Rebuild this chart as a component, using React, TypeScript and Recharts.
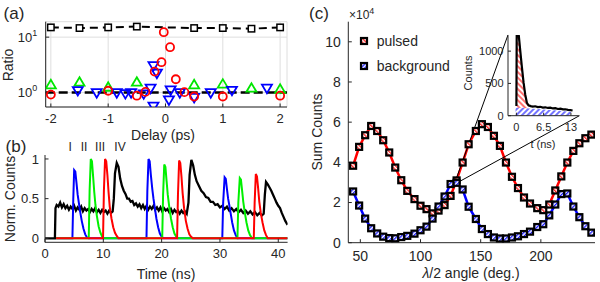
import React from 'react';
import {
  ComposedChart,
  LineChart,
  Line,
  Scatter,
  Area,
  XAxis,
  YAxis,
  CartesianGrid,
  ReferenceLine,
} from 'recharts';

const FONT = '"Liberation Sans", Arial, Helvetica, sans-serif';
const INK = '#262626';

// (a) ratio vs delay
const delayTicks = [-2, -1, 0, 1, 2];
const ratioTicks = [1, 10];
const refDelay = [-2, -1.5, -1, -0.5, 0.5, 1, 1.5, 2];
const refRatio = [15, 14.6, 15, 15.5, 14.6, 14.6, 14.2, 15];
const greenDelay = [-2, -1.5, -1, -0.5, 0.5, 1, 1.5, 2];
const greenRatio = [1.38, 1.54, 1.25, 1.54, 1.38, 1.42, 1.2, 1.15];
const blueDelay = [-1.53, -1.2, -0.85, -0.7, -0.6, -0.38, -0.26, -0.21, -0.15, -0.21, 0.09, 0.06, 0.25, 0.5, 0.79, 1.16, 1.77];
const blueRatio = [1.09, 1.0, 1.0, 0.96, 1.0, 0.95, 1.2, 0.57, 2.24, 3.07, 1.12, 0.74, 1.0, 0.82, 1.0, 1.1, 1.2];
const redDelay = [-2, -1, -0.5, -0.35, -0.19, -0.07, -0.03, 0.08, 0.18, 0.33, 0.5, 1, 2];
const redRatio = [0.92, 1.08, 0.88, 1.03, 2.39, 3.54, 12.3, 6.6, 1.74, 1.02, 0.85, 0.85, 0.88];

// (b) normalised time traces [time ns, counts]
const timeTicks = [0, 10, 20, 30, 40];
const normTicks = [0, 0.5, 1];
const blackTrace: [number, number][] = [
  [0, 0], [1.7, 0], [1.8, 0.38], [2.0, 0.42], [2.3, 0.4], [2.6, 0.45], [2.9, 0.39], [3.2, 0.43],
  [3.5, 0.38], [3.8, 0.41], [4.1, 0.36], [4.4, 0.4], [4.7, 0.37], [5.0, 0.41], [5.3, 0.35], [5.6, 0.39],
  [5.9, 0.36], [6.2, 0.4], [6.5, 0.34], [6.8, 0.38], [7.1, 0.35], [7.4, 0.37], [7.7, 0.33], [8.0, 0.37],
  [8.3, 0.34], [8.6, 0.38], [8.9, 0.33], [9.2, 0.36], [9.5, 0.32], [9.8, 0.36], [10.1, 0.33], [10.4, 0.35],
  [10.7, 0.31], [11.0, 0.35], [11.3, 0.32], [11.6, 0.34], [11.8, 0.5], [12.0, 0.82], [12.3, 0.95], [12.6, 0.9],
  [12.9, 0.75], [13.2, 0.66], [13.5, 0.6], [13.8, 0.56], [14.1, 0.5], [14.4, 0.5], [14.7, 0.46], [15.0, 0.47],
  [15.3, 0.42], [15.6, 0.44], [15.9, 0.4], [16.2, 0.43], [16.5, 0.38], [16.8, 0.42], [17.1, 0.37], [17.4, 0.41],
  [17.7, 0.36], [18.0, 0.4], [18.3, 0.37], [18.6, 0.41], [18.9, 0.36], [19.2, 0.39], [19.5, 0.35], [19.8, 0.39],
  [20.1, 0.34], [20.4, 0.38], [20.7, 0.35], [21.0, 0.37], [21.3, 0.33], [21.6, 0.37], [21.9, 0.32], [22.2, 0.36],
  [22.5, 0.33], [22.8, 0.35], [23.1, 0.31], [23.4, 0.35], [23.7, 0.32], [24.0, 0.34], [24.3, 0.31], [24.6, 0.45],
  [24.8, 0.8], [25.1, 0.99], [25.4, 0.92], [25.7, 0.8], [26.0, 0.72], [26.4, 0.66], [26.8, 0.6], [27.2, 0.57],
  [27.6, 0.52], [28.0, 0.51], [28.4, 0.46], [28.8, 0.46], [29.2, 0.42], [29.6, 0.43], [30.0, 0.39], [30.4, 0.41],
  [30.8, 0.37], [31.2, 0.4], [31.6, 0.35], [32.0, 0.38], [32.4, 0.34], [32.8, 0.37], [33.2, 0.33], [33.6, 0.36],
  [34.0, 0.32], [34.4, 0.35], [34.8, 0.31], [35.2, 0.34], [35.6, 0.3], [36.0, 0.33], [36.4, 0.29], [36.8, 0.32],
  [37.2, 0.29], [37.5, 0.31], [37.7, 0.55], [37.9, 0.71], [38.2, 0.68], [38.5, 0.64], [38.8, 0.6], [39.1, 0.55],
  [39.4, 0.5], [39.7, 0.45], [40.0, 0.41], [40.3, 0.38], [40.6, 0.32], [40.9, 0.27], [41.2, 0.22], [41.6, 0.17],
];
const blueTrace: [number, number][] = [
  [1.9, 0], [4.7, 0], [4.85, 0.5], [5.0, 0.86], [5.2, 0.84], [5.4, 0.7], [5.6, 0.55], [5.8, 0.45], [6.0, 0.35],
  [6.3, 0.22], [6.6, 0.12], [6.9, 0.05], [7.2, 0.01], [7.5, 0],
  [17.4, 0], [17.55, 0.6], [17.75, 1.0], [17.95, 0.97], [18.15, 0.8], [18.4, 0.62], [18.6, 0.5], [18.8, 0.4],
  [19.1, 0.25], [19.4, 0.14], [19.7, 0.06], [20.0, 0.02], [20.3, 0],
  [30.4, 0], [30.55, 0.45], [30.8, 0.77], [31.0, 0.75], [31.2, 0.62], [31.4, 0.5], [31.6, 0.42], [31.8, 0.33],
  [32.1, 0.2], [32.4, 0.1], [32.7, 0.04], [33.0, 0], [41.6, 0],
];
const greenTrace: [number, number][] = [
  [1.9, 0], [7.5, 0], [7.65, 0.6], [7.85, 1.0], [8.05, 0.97], [8.25, 0.78], [8.45, 0.58], [8.65, 0.42],
  [8.9, 0.28], [9.2, 0.15], [9.5, 0.07], [9.8, 0.02], [10.1, 0],
  [20.1, 0], [20.25, 0.55], [20.45, 0.93], [20.65, 0.9], [20.85, 0.72], [21.05, 0.55], [21.3, 0.4],
  [21.6, 0.25], [21.9, 0.14], [22.2, 0.06], [22.5, 0.02], [22.8, 0],
  [33.0, 0], [33.15, 0.45], [33.4, 0.76], [33.6, 0.74], [33.8, 0.6], [34.0, 0.46], [34.25, 0.33],
  [34.55, 0.2], [34.85, 0.1], [35.15, 0.04], [35.5, 0], [41.6, 0],
];
const redTrace: [number, number][] = [
  [1.9, 0], [9.95, 0], [10.1, 0.6], [10.3, 1.0], [10.5, 0.97], [10.7, 0.8], [10.9, 0.58], [11.1, 0.4],
  [11.4, 0.25], [11.7, 0.14], [12.0, 0.07], [12.3, 0.03], [12.6, 0],
  [22.65, 0], [22.8, 0.55], [23.0, 0.98], [23.2, 0.95], [23.4, 0.78], [23.6, 0.57], [23.85, 0.38],
  [24.15, 0.22], [24.45, 0.12], [24.75, 0.05], [25.05, 0.02], [25.35, 0],
  [35.8, 0], [35.95, 0.45], [36.15, 0.81], [36.35, 0.78], [36.55, 0.63], [36.75, 0.46], [37.0, 0.32],
  [37.3, 0.2], [37.6, 0.1], [37.9, 0.04], [38.2, 0], [41.6, 0],
];
const pulseNames = ['I', 'II', 'III', 'IV'];

// (c) summed counts vs half-wave plate angle
const angleTicks = [50, 100, 150, 200];
const sumTicks = [0, 2, 4, 6, 8, 10];
const angles = [44, 49, 54, 59, 64, 69, 74, 79, 84, 89, 95, 100, 105, 110, 115, 120, 125, 130, 135, 140,
  146, 151, 156, 161, 166, 171, 176, 181, 186, 191, 197, 202, 207, 212, 217, 222, 227, 232, 237, 242];
const pulsed = [3.83, 4.77, 5.35, 5.81, 5.56, 5.1, 4.49, 3.74, 3.11, 2.58, 2.17, 1.84, 1.67, 1.46, 1.6, 1.87,
  2.33, 3.1, 3.99, 4.9, 5.56, 5.9, 5.76, 5.32, 4.82, 3.99, 3.28, 2.72, 2.25, 1.95, 1.72, 1.62, 1.9, 2.6,
  3.3, 3.99, 4.57, 4.95, 5.2, 5.38];
const background = [2.55, 1.85, 1.2, 0.72, 0.46, 0.3, 0.23, 0.22, 0.28, 0.34, 0.45, 0.62, 0.8, 1.2, 1.8,
  2.3, 2.92, 2.98, 2.65, 1.79, 1.18, 0.68, 0.43, 0.26, 0.21, 0.21, 0.26, 0.32, 0.43, 0.55, 0.78, 0.92,
  1.36, 1.9, 2.42, 2.45, 1.8, 1.27, 0.82, 0.5];
// zoom connector: picked angle and inset corners, in main-axis units
const zoomPoint = { x: 128, y: 2.9 };
const insetTopLeft = { x: 172.7, y: 10.34 };
const insetBottomRight = { x: 232, y: 6.32 };

// (c) inset histogram
const histTicks = [0, 6.5, 13];
const countTicks = [0, 500, 1000];
const histTime = [0, 0.08, 0.5, 0.9, 1.3, 1.7, 2.1, 2.5, 2.9, 3.4, 3.9, 4.5, 5.1, 5.7, 6.3, 6.9, 7.5, 8.1,
  8.7, 9.3, 9.9, 10.5, 11.1, 11.7, 12.3, 12.9, 13.4];
const histPulsed = [150, 1300, 1290, 1020, 760, 520, 330, 200, 160, 148, 140, 146, 134, 138, 126, 130, 120,
  124, 112, 116, 104, 108, 98, 100, 90, 86, 80];
const histBgTime = [-0.2, 1.0, 2.0, 3.0, 4.0, 5.0, 6.0, 7.0, 8.0, 9.0, 10.0, 11.0, 12.0, 13.0];
const histBg = [125, 122, 118, 113, 108, 104, 99, 94, 89, 83, 77, 71, 65, 58];

const xy = (xs: number[], ys: number[]) => xs.map((x, i) => ({ x, y: ys[i] }));
const tv = (pts: [number, number][]) => pts.map(([t, v]) => ({ t, v }));

const tickFont = (size: number) => ({ fontSize: size, fill: INK, fontFamily: FONT });
const axisStroke = { stroke: INK, strokeWidth: 1 };

function PowerTick(props: any) {
  const { x, y, payload } = props;
  return (
    <text x={x} y={y} dy={4.5} textAnchor="end" fill={INK} fontSize={13} fontFamily={FONT}>
      10
      <tspan dy={-6} fontSize={9}>
        {Math.round(Math.log10(payload.value))}
      </tspan>
    </text>
  );
}

const openSquare = (p: any) => (
  <rect x={p.cx - 3.2} y={p.cy - 3.2} width={6.4} height={6.4} fill="#fff" stroke="#000" strokeWidth={1.5} />
);
const openCircle = (p: any) => <circle cx={p.cx} cy={p.cy} r={4} fill="none" stroke="#ff0000" strokeWidth={1.8} />;
const triangle = (color: string, up: boolean) => (p: any) => {
  const { cx, cy } = p;
  const d = up
    ? `M${cx - 5},${cy + 3.5}L${cx + 5},${cy + 3.5}L${cx},${cy - 5}Z`
    : `M${cx - 5},${cy - 3.5}L${cx + 5},${cy - 3.5}L${cx},${cy + 5}Z`;
  return <path d={d} fill="none" stroke={color} strokeWidth={1.8} />;
};
const hatchedSquare = (fill: string) => (p: any) => (
  <rect x={p.cx - 3} y={p.cy - 3} width={6} height={6} fill={fill} stroke="#000" strokeWidth={2.2} />
);

function HatchDefs() {
  return (
    <svg width={0} height={0} style={{ position: 'absolute' }}>
      <defs>
        <pattern id="pulsedHatch" patternUnits="userSpaceOnUse" width={2.8} height={2.8} patternTransform="rotate(-45)">
          <rect width={2.8} height={2.8} fill="#fff" />
          <line x1={0.7} y1={0} x2={0.7} y2={2.8} stroke="#ff0000" strokeWidth={1.2} />
        </pattern>
        <pattern id="bgHatch" patternUnits="userSpaceOnUse" width={2.8} height={2.8} patternTransform="rotate(45)">
          <rect width={2.8} height={2.8} fill="#fff" />
          <line x1={0.7} y1={0} x2={0.7} y2={2.8} stroke="#0000ff" strokeWidth={1.2} />
        </pattern>
        <pattern id="insetRed" patternUnits="userSpaceOnUse" width={4} height={4} patternTransform="rotate(-45)">
          <rect width={4} height={4} fill="#fff" />
          <line x1={1} y1={0} x2={1} y2={4} stroke="#ff0000" strokeWidth={1.1} />
        </pattern>
        <pattern id="insetBlue" patternUnits="userSpaceOnUse" width={4} height={4} patternTransform="rotate(45)">
          <rect width={4} height={4} fill="#fff" />
          <line x1={1} y1={0} x2={1} y2={4} stroke="#0000ff" strokeWidth={1.1} />
        </pattern>
      </defs>
    </svg>
  );
}

function RatioPanel() {
  const xDomain = [-2.09, 2.12];
  const yDomain = [0.55, 19];
  return (
    <ComposedChart width={300} height={145} margin={{ top: 21.7, right: 13, bottom: 0, left: 0 }}>
      <CartesianGrid stroke="#dedede" />
      <XAxis dataKey="x" type="number" domain={xDomain} ticks={delayTicks} allowDataOverflow height={38}
        tickSize={-3.5} tickMargin={10} tick={tickFont(13)} axisLine={axisStroke} tickLine={axisStroke} />
      <XAxis xAxisId="top" orientation="top" type="number" domain={xDomain} ticks={delayTicks} allowDataOverflow
        height={0} tick={false} tickSize={-3.5} axisLine={axisStroke} tickLine={axisStroke} />
      <YAxis dataKey="y" type="number" scale="log" domain={yDomain} ticks={ratioTicks} allowDataOverflow width={45.7}
        tickSize={-3.5} tickMargin={12} tick={(p: any) => <PowerTick {...p} />} axisLine={axisStroke} tickLine={axisStroke} />
      <YAxis yAxisId="right" orientation="right" type="number" scale="log" domain={yDomain} ticks={ratioTicks}
        allowDataOverflow width={0} tick={false} tickSize={-3.5} axisLine={axisStroke} tickLine={axisStroke} />
      <ReferenceLine y={1} stroke="#000" strokeWidth={2.5} strokeDasharray="9 4" />
      <Line data={xy(refDelay, refRatio)} dataKey="y" stroke="#000" strokeWidth={2} strokeDasharray="8 5"
        dot={false} isAnimationActive={false} />
      <Scatter data={xy(refDelay, refRatio)} shape={openSquare} isAnimationActive={false} />
      <Scatter data={xy(greenDelay, greenRatio)} shape={triangle('#00e600', true)} isAnimationActive={false} />
      <Scatter data={xy(blueDelay, blueRatio)} shape={triangle('#0000ff', false)} isAnimationActive={false} />
      <Scatter data={xy(redDelay, redRatio)} shape={openCircle} isAnimationActive={false} />
    </ComposedChart>
  );
}

function TracePanel() {
  const xDomain = [0, 41.6];
  const yDomain = [-0.05, 1.05];
  return (
    <LineChart width={300} height={142} margin={{ top: 15, right: 12.4, bottom: 0, left: 0 }}>
      <XAxis dataKey="t" type="number" domain={xDomain} ticks={timeTicks} allowDataOverflow height={39.7}
        tickSize={-3.5} tickMargin={10} tick={tickFont(13)} axisLine={axisStroke} tickLine={axisStroke} />
      <XAxis xAxisId="top" orientation="top" type="number" domain={xDomain} ticks={timeTicks} allowDataOverflow
        height={0} tick={false} tickSize={-3.5} axisLine={axisStroke} tickLine={axisStroke} />
      <YAxis type="number" domain={yDomain} ticks={normTicks} allowDataOverflow width={45}
        tickSize={-3.5} tickMargin={9.5} tick={tickFont(13)} axisLine={axisStroke} tickLine={axisStroke} />
      <YAxis yAxisId="right" orientation="right" type="number" domain={yDomain} ticks={normTicks} allowDataOverflow
        width={0} tick={false} tickSize={-3.5} axisLine={axisStroke} tickLine={axisStroke} />
      <Line data={tv(blackTrace)} dataKey="v" stroke="#000" strokeWidth={2.3} dot={false} isAnimationActive={false} />
      <Line data={tv(blueTrace)} dataKey="v" stroke="#0000ff" strokeWidth={2} dot={false} isAnimationActive={false} />
      <Line data={tv(greenTrace)} dataKey="v" stroke="#00f000" strokeWidth={2} dot={false} isAnimationActive={false} />
      <Line data={tv(redTrace)} dataKey="v" stroke="#ff0000" strokeWidth={2} dot={false} isAnimationActive={false} />
    </LineChart>
  );
}

function SumPanel() {
  const xDomain = [40, 245];
  const yDomain = [0, 11];
  const pulsedRows = xy(angles, pulsed);
  const bgRows = xy(angles, background);
  return (
    <ComposedChart width={300} height={282} margin={{ top: 21.7, right: 5, bottom: 0, left: 0 }}>
      <XAxis dataKey="x" type="number" domain={xDomain} ticks={angleTicks} allowDataOverflow height={39.3}
        tickSize={-3.5} tickMargin={11.5} tick={tickFont(14)} axisLine={axisStroke} tickLine={axisStroke} />
      <XAxis xAxisId="top" orientation="top" type="number" domain={xDomain} ticks={angleTicks} allowDataOverflow
        height={0} tick={false} tickSize={-3.5} axisLine={axisStroke} tickLine={axisStroke} />
      <YAxis dataKey="y" type="number" domain={yDomain} ticks={sumTicks} allowDataOverflow width={48.3}
        tickSize={-3.5} tickMargin={11} tick={tickFont(14)} axisLine={axisStroke} tickLine={axisStroke} />
      <YAxis yAxisId="right" orientation="right" type="number" domain={yDomain} ticks={sumTicks} allowDataOverflow
        width={0} tick={false} tickSize={-3.5} axisLine={axisStroke} tickLine={axisStroke} />
      <Line data={pulsedRows} dataKey="y" stroke="#ff0000" strokeWidth={2.5} dot={false} isAnimationActive={false} />
      <Line data={bgRows} dataKey="y" stroke="#0000ff" strokeWidth={2.5} dot={false} isAnimationActive={false} />
      <Scatter data={pulsedRows} shape={hatchedSquare('url(#pulsedHatch)')} isAnimationActive={false} />
      <Scatter data={bgRows} shape={hatchedSquare('url(#bgHatch)')} isAnimationActive={false} />
      <ReferenceLine segment={[zoomPoint, insetTopLeft]} stroke="#000" strokeWidth={1} ifOverflow="visible" />
      <ReferenceLine segment={[zoomPoint, insetBottomRight]} stroke="#000" strokeWidth={1} ifOverflow="visible" />
    </ComposedChart>
  );
}

function InsetPanel() {
  const xDomain = [-2, 15];
  const yDomain = [0, 1250];
  const spike = histTime.slice(0, 9).map((t, i) => ({ t, v: histPulsed[i] }));
  const bg = histBgTime.map((t, i) => ({ t, v: histBg[i] }));
  const hist = histTime.map((t, i) => ({ t, v: histPulsed[i] }));
  return (
    <ComposedChart width={127} height={127} margin={{ top: 10, right: 5.7, bottom: 0, left: 0 }}>
      <CartesianGrid fill="#fff" stroke="none" />
      <XAxis dataKey="t" type="number" domain={xDomain} ticks={histTicks} allowDataOverflow height={36.3}
        tickSize={-3} tickMargin={10.5} tick={tickFont(11)} axisLine={axisStroke} tickLine={axisStroke} />
      <XAxis xAxisId="top" orientation="top" type="number" domain={xDomain} ticks={histTicks} allowDataOverflow
        height={0} tick={false} tickSize={-3} axisLine={axisStroke} tickLine={axisStroke} />
      <YAxis type="number" domain={yDomain} ticks={countTicks} allowDataOverflow width={50}
        tickSize={-3} tickMargin={7.5} tick={tickFont(11)} axisLine={axisStroke} tickLine={axisStroke} />
      <YAxis yAxisId="right" orientation="right" type="number" domain={yDomain} ticks={countTicks} allowDataOverflow
        width={0} tick={false} tickSize={-3} axisLine={axisStroke} tickLine={axisStroke} />
      <Area data={spike} dataKey="v" stroke="none" fill="url(#insetRed)" fillOpacity={1} isAnimationActive={false} />
      <Area data={bg} dataKey="v" stroke="none" fill="url(#insetBlue)" fillOpacity={1} isAnimationActive={false} />
      <Line data={hist} dataKey="v" stroke="#000" strokeWidth={2.2} dot={false} isAnimationActive={false} />
    </ComposedChart>
  );
}

function Text({ x, y, size = 14, rotate = false, left = false, children }: any) {
  return (
    <div
      style={{
        position: 'absolute',
        left: x,
        top: y,
        transform: `${left ? 'translate(0,-50%)' : 'translate(-50%,-50%)'}${rotate ? ' rotate(-90deg)' : ''}`,
        fontSize: size,
        fontFamily: FONT,
        color: INK,
        lineHeight: 1,
        whiteSpace: 'nowrap',
      }}
    >
      {children}
    </div>
  );
}

function LegendMark({ fill }: { fill: string }) {
  return (
    <svg width={10} height={10} style={{ display: 'block' }}>
      <rect x={2} y={2} width={6} height={6} fill={fill} stroke="#000" strokeWidth={2.2} />
    </svg>
  );
}

const pulseLabelX = [70.2, 84.1, 100.1, 120];

export default function App() {
  return (
    <div style={{ position: 'absolute', left: 0, top: 0, width: 600, height: 282, background: '#fff' }}>
      <HatchDefs />
      <div style={{ position: 'absolute', left: 0, top: 0 }}>
        <RatioPanel />
      </div>
      <div style={{ position: 'absolute', left: 0, top: 140 }}>
        <TracePanel />
      </div>
      <div style={{ position: 'absolute', left: 300, top: 0 }}>
        <SumPanel />
      </div>
      <div style={{ position: 'absolute', left: 458, top: 25 }}>
        <InsetPanel />
      </div>

      <Text x={14} y={12.5} size={17}>(a)</Text>
      <Text x={16} y={146} size={17}>(b)</Text>
      <Text x={319} y={13} size={17}>(c)</Text>

      <Text x={7.5} y={64.5} rotate>Ratio</Text>
      <Text x={163} y={135}>Delay (ps)</Text>
      <Text x={10} y={199} rotate>Norm. Counts</Text>
      <Text x={166} y={274}>Time (ns)</Text>
      {pulseNames.map((n, i) => (
        <Text key={n} x={pulseLabelX[i]} y={146.7} size={12}>{n}</Text>
      ))}

      <Text x={317} y={132} rotate>Sum Counts</Text>
      <Text x={471} y={273}>
        <i>λ</i>/2 angle (deg.)
      </Text>
      <Text x={349} y={14} size={12} left>
        ×10<sup style={{ fontSize: 9 }}>4</sup>
      </Text>
      <Text x={468} y={73} size={11} rotate>Counts</Text>
      <Text x={543} y={143.5} size={11}>t (ns)</Text>

      <div style={{ position: 'absolute', left: 359, top: 35.7 }}>
        <LegendMark fill="url(#pulsedHatch)" />
      </div>
      <Text x={376.7} y={40.7} left>pulsed</Text>
      <div style={{ position: 'absolute', left: 359, top: 60.7 }}>
        <LegendMark fill="url(#bgHatch)" />
      </div>
      <Text x={376.7} y={65.7} left>background</Text>
    </div>
  );
}
